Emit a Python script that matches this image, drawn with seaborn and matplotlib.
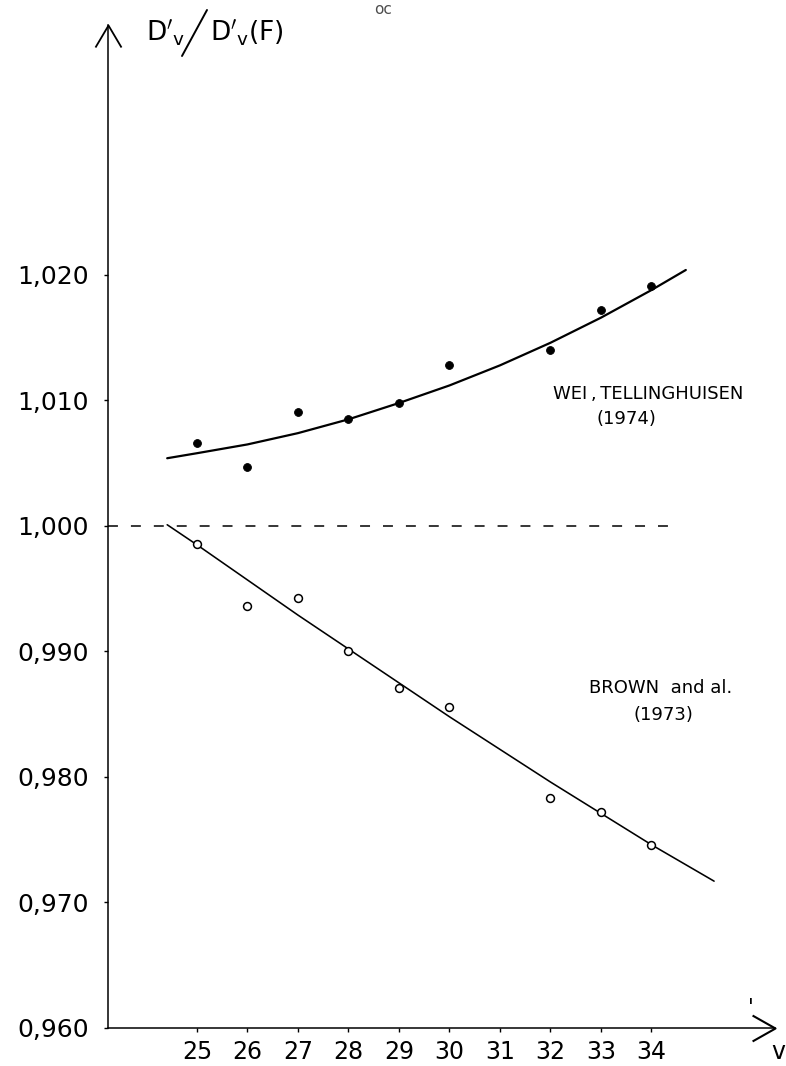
import numpy as np
import pandas as pd
import matplotlib
matplotlib.use("Agg")
import matplotlib.pyplot as plt
from matplotlib.path import Path
from matplotlib.lines import Line2D
import seaborn as sns

# ---------------- data ----------------
v_points = [25, 26, 27, 28, 29, 30, 32, 33, 34]
wei_values = [1.0066, 1.0047, 1.0091, 1.0085, 1.0098, 1.0128, 1.0140, 1.0172, 1.0191]
brown_values = [0.9986, 0.9936, 0.9943, 0.9900, 0.9871, 0.9856, 0.9783, 0.9772, 0.9746]

wei_curve_v = [24.41, 25, 26, 27, 28, 29, 30, 31, 32, 33, 34, 34.68]
wei_curve_values = [1.0054, 1.0058, 1.0065, 1.0074, 1.0085, 1.0098, 1.0112,
                    1.0128, 1.0146, 1.0166, 1.0188, 1.0204]
brown_curve_v = [24.41, 25, 26, 27, 28, 29, 30, 31, 32, 33, 34, 35.24]
brown_curve_values = [1.0001, 0.9985, 0.9957, 0.9929, 0.9902, 0.9875, 0.9848,
                      0.9822, 0.9796, 0.9771, 0.9746, 0.9717]

unity_span_v = [23.24, 34.55]
unity_value = 1.000

x_ticks = [25, 26, 27, 28, 29, 30, 31, 32, 33, 34]
y_ticks = [0.960, 0.970, 0.980, 0.990, 1.000, 1.010, 1.020]
y_tick_labels = ["0,960", "0,970", "0,980", "0,990", "1,000", "1,010", "1,020"]

wei_label = "WEI\u2009,\u2009TELLINGHUISEN"
wei_year = "(1974)"
brown_label = "BROWN  and al."
brown_year = "(1973)"

# ---------------- style ----------------
sns.set_theme(style="white")
plt.rcParams["font.family"] = ["DejaVu Sans"]
plt.rcParams["mathtext.fontset"] = "dejavusans"
plt.rcParams["text.color"] = "black"

W, H = 786, 1066
fig = plt.figure(figsize=(W / 100, H / 100), dpi=100)


def fx(px):
    return px / W


def fy(py):
    return 1 - py / H


ax = fig.add_axes([fx(108), fy(1028), (775 - 108) / W, (1028 - 25) / H])
ax.set_xlim(23.238, 36.446)
ax.set_ylim(0.960, 1.03992)

pts = pd.DataFrame({"v": v_points, "wei": wei_values, "brown": brown_values})
wcurve = pd.DataFrame({"v": wei_curve_v, "val": wei_curve_values})
bcurve = pd.DataFrame({"v": brown_curve_v, "val": brown_curve_values})

# unity reference line
sns.lineplot(x=unity_span_v, y=[unity_value] * len(unity_span_v), ax=ax,
             color="black", linewidth=1.1, dashes=False, linestyle=(0, (6.5, 8.5)))

# fitted curves
sns.lineplot(data=wcurve, x="v", y="val", ax=ax, color="black", linewidth=1.6,
             sort=False, estimator=None)
sns.lineplot(data=bcurve, x="v", y="val", ax=ax, color="black", linewidth=1.15,
             sort=False, estimator=None)

# data points
sns.scatterplot(data=pts, x="v", y="wei", ax=ax, color="black", s=32,
                edgecolor="black", linewidth=0.6, zorder=5)
sns.scatterplot(data=pts, x="v", y="brown", ax=ax, facecolor="white", s=32,
                edgecolor="black", linewidth=1.1, zorder=5)

# axes look
for side in ["top", "right"]:
    ax.spines[side].set_visible(False)
for side in ["left", "bottom"]:
    ax.spines[side].set_color("black")
    ax.spines[side].set_linewidth(1.1)

ax.set_xticks(x_ticks)
ax.set_xticklabels([str(t) for t in x_ticks])
ax.set_yticks(y_ticks)
ax.set_yticklabels(y_tick_labels)
ax.tick_params(axis="y", direction="out", length=3, width=1, pad=11,
               labelsize=18, colors="black", left=True)
ax.tick_params(axis="x", direction="out", length=3, width=1, pad=5.5,
               labelsize=17, colors="black", bottom=True)
ax.set_xlabel("")
ax.set_ylabel("")
ax.grid(False)

# arrow heads on the axes
up_head = Path([(-13, -22), (0, 0), (13, -22)],
               [Path.MOVETO, Path.LINETO, Path.LINETO])
right_head = Path([(-23, 13), (0, 0), (-23, -13)],
                  [Path.MOVETO, Path.LINETO, Path.LINETO])
ax.plot([0], [1], transform=ax.transAxes, marker=up_head, markersize=31.7,
        markerfacecolor="none", markeredgecolor="black", markeredgewidth=1.3,
        clip_on=False, linestyle="none")
ax.plot([1], [0], transform=ax.transAxes, marker=right_head, markersize=33,
        markerfacecolor="none", markeredgecolor="black", markeredgewidth=1.5,
        clip_on=False, linestyle="none")

# series labels
ax.text(33.93, 1.0105, wei_label, fontsize=13, ha="center", va="center")
ax.text(33.51, 1.0085, wei_year, fontsize=13, ha="center", va="center")
ax.text(34.19, 0.98709, brown_label, fontsize=13, ha="center", va="center")
ax.text(34.23, 0.98494, brown_year, fontsize=13, ha="center", va="center")

# y axis title  D'v / D'v(F)
fig.text(fx(146), fy(41), r"$\mathrm{D}'_{\mathrm{v}}$", fontsize=19, va="baseline")
fig.add_artist(Line2D([fx(182), fx(207)], [fy(56), fy(10)], color="black",
                      linewidth=1.4, transform=fig.transFigure))
fig.text(fx(210), fy(41), r"$\mathrm{D}'_{\mathrm{v}}(\mathrm{F})$", fontsize=19,
         va="baseline")

# x axis title v'
fig.text(fx(778), fy(1052), "v", fontsize=17, ha="center", va="center")
fig.text(fx(751), fy(1008), "'", fontsize=15, ha="center", va="center")

# page mark at the top of the scan
fig.text(fx(383), fy(9), "oc", fontsize=11, color="0.3", ha="center", va="center")

fig.savefig("out.png", dpi=100, facecolor="white")
